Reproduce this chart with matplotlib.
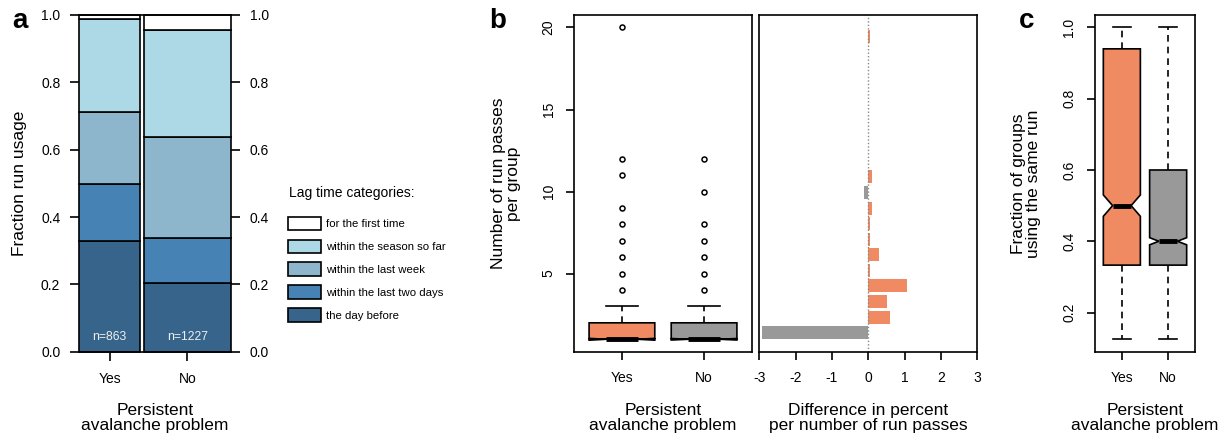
import numpy as np
import matplotlib.pyplot as plt
from matplotlib.patches import Patch

plt.rcParams['font.family'] = ['Liberation Sans', 'DejaVu Sans']
plt.rcParams['axes.unicode_minus'] = False

W, H = 1218, 436

# --- data: panel a (fraction run usage by lag time) ---
groups = ['Yes', 'No']
n_groups = [863, 1227]
lag_cats = ['the day before', 'within the last two days', 'within the last week',
            'within the season so far', 'for the first time']
lag_colors = ['#36648B', '#4682B4', '#8DB6CD', '#ADD8E6', '#FFFFFF']
frac_yes = [0.330, 0.167, 0.216, 0.274, 0.013]
frac_no = [0.205, 0.133, 0.301, 0.316, 0.045]

# --- data: panel b (run passes per group) ---
passes_q1 = [1, 1]
passes_med = [1, 1]
passes_q3 = [2, 2]
passes_whislo = [1, 1]
passes_whishi = [3, 3]
passes_cilo = [0.946, 0.955]
passes_cihi = [1.054, 1.045]
passes_out_yes = [4, 5, 6, 7, 8, 9, 11, 12, 20]
passes_out_no = [4, 5, 6, 7, 8, 10, 12]

run_passes = list(range(1, 21))
diff_pct = [-2.93, 0.60, 0.52, 1.07, 0.055, 0.29, 0.055, 0.055, 0.09, -0.12,
            0.09, 0, 0, 0, 0, 0, 0, 0, 0, 0.04]

# --- data: panel c (fraction of groups using the same run) ---
same_q1 = [0.333, 0.333]
same_med = [0.5, 0.4]
same_q3 = [0.94, 0.6]
same_whislo = [0.125, 0.125]
same_whishi = [1.0, 1.0]
same_cilo = [0.47, 0.39]
same_cihi = [0.53, 0.41]

col_yes = '#EF8A62'
col_no = '#999999'
TICK = 10
LAB = 12.5


def rect(x0, x1, y0, y1):
    return [x0 / W, 1 - y1 / H, (x1 - x0) / W, (y1 - y0) / H]


def frac_x(ax_px, v):
    x0, x1 = ax_px
    return (v - x0) / (x1 - x0)


fig = plt.figure(figsize=(W / 100, H / 100), dpi=100)

Y0, Y1 = 15, 351.7

# ================= a =================
axa = fig.add_axes(rect(79, 231, Y0, Y1))
gap = 0.05 * np.mean(n_groups)
lefts = [0, n_groups[0] + gap]
for gi, fr in enumerate([frac_yes, frac_no]):
    bottom = 0
    for ci, f in enumerate(fr):
        axa.bar(lefts[gi], f, width=n_groups[gi], bottom=bottom, align='edge',
                color=lag_colors[ci], edgecolor='black', lw=1.2, clip_on=False)
        bottom += f
    axa.text(lefts[gi] + n_groups[gi] / 2, 0.045, f'n={n_groups[gi]}', ha='center',
             va='center', color='#EEEEEE', fontsize=8.8)
axa.set_xlim(0, lefts[1] + n_groups[1])
axa.set_ylim(0, 1)
axa.axhline(0, color='black', lw=1.2, clip_on=False)
axa.axhline(1, color='black', lw=1.2, clip_on=False)
for s in axa.spines.values():
    s.set_visible(False)
axa.set_yticks(np.arange(0, 1.01, 0.2))
axa.set_yticklabels([f'{v:.1f}' for v in np.arange(0, 1.01, 0.2)])
axa.set_xticks([lefts[i] + n_groups[i] / 2 for i in range(2)])
axa.set_xticklabels(groups)
axa.tick_params(axis='y', left=True, right=True, labelleft=True, labelright=True,
                length=6.5, width=1.2, pad=7, labelsize=TICK)
axa.tick_params(axis='x', length=6.5, width=1.2, pad=8, labelsize=TICK)
axa.set_ylabel('Fraction run usage', fontsize=LAB, va='center')
axa.yaxis.set_label_coords(frac_x((79, 231), 20), 0.5)
axa.set_xlabel('Persistent\navalanche problem', fontsize=LAB, va='center',
               linespacing=1.05)
axa.xaxis.set_label_coords(0.5, (Y1 - 418) / (Y1 - Y0))

handles = [Patch(facecolor=lag_colors[i], edgecolor='black', lw=1.2, label=lag_cats[i])
           for i in range(len(lag_cats) - 1, -1, -1)]
fig.legend(handles=handles, loc='upper left', bbox_to_anchor=(288.3 / W, 1 - 216.6 / H),
           frameon=False, fontsize=8.2, handlelength=2.9, handleheight=1.46,
           handletextpad=0.44, labelspacing=0.82, borderpad=0, borderaxespad=0)
fig.text(289 / W, 1 - 192.7 / H, 'Lag time categories:', fontsize=10, va='center', ha='left')


def box_stats(q1, med, q3, lo, hi, cilo, cihi, fliers):
    return [dict(q1=q1[i], med=med[i], q3=q3[i], whislo=lo[i], whishi=hi[i],
                 cilo=cilo[i], cihi=cihi[i], fliers=fliers[i]) for i in range(2)]


def draw_box(ax, stats):
    bp = ax.bxp(stats, positions=[1, 2], widths=0.8, patch_artist=True,
                shownotches=True,
                boxprops=dict(edgecolor='black', lw=1.2),
                whiskerprops=dict(color='black', lw=1.2, linestyle=(0, (4, 3))),
                capprops=dict(color='black', lw=1.2),
                medianprops=dict(color='black', lw=3.5, solid_capstyle='butt'),
                flierprops=dict(marker='o', mfc='white', mec='black', ms=3.6, mew=1.1))
    for patch, c in zip(bp['boxes'], [col_yes, col_no]):
        patch.set_facecolor(c)
    ax.set_xlim(0.42, 2.58)
    ax.set_xticks([1, 2])
    ax.set_xticklabels(groups)
    ax.tick_params(axis='x', length=6, width=1.2, pad=8, labelsize=TICK)
    ax.tick_params(axis='y', length=6, width=1.2, pad=7.5, labelsize=TICK,
                   labelrotation=90)
    for s in ax.spines.values():
        s.set_linewidth(1.2)
    for lab in ax.get_yticklabels():
        lab.set_va('center')


# ================= b (boxplot) =================
bpx = (574.3, 751.7)
axb = fig.add_axes(rect(bpx[0], bpx[1], Y0, Y1))
draw_box(axb, box_stats(passes_q1, passes_med, passes_q3, passes_whislo, passes_whishi,
                        passes_cilo, passes_cihi, [passes_out_yes, passes_out_no]))
axb.set_ylim(0.24, 20.76)
axb.set_yticks([5, 10, 15, 20])
axb.set_ylabel('Number of run passes\nper group', fontsize=LAB, va='center',
               linespacing=1.05)
axb.yaxis.set_label_coords(frac_x(bpx, 506), 0.5)
axb.set_xlabel('Persistent\navalanche problem', fontsize=LAB, va='center',
               linespacing=1.05)
axb.xaxis.set_label_coords(0.5, (Y1 - 418) / (Y1 - Y0))

# ================= b (difference bars) =================
dpx = (759.3, 977.3)
axd = fig.add_axes(rect(dpx[0], dpx[1], Y0, Y1))
ypos = [0.7 + 1.2 * i for i in range(len(run_passes))]
axd.barh(ypos, diff_pct, height=1.0, color=[col_yes if v > 0 else col_no for v in diff_pct],
         edgecolor='none')
axd.axvline(0, color='#888888', lw=1, linestyle=(0, (1, 1.5)))
axd.set_xlim(-3, 3)
axd.set_ylim(-0.76, 25.16)
axd.set_yticks([])
axd.set_xticks(range(-3, 4))
axd.tick_params(axis='x', length=6, width=1.2, pad=8, labelsize=TICK)
for s in axd.spines.values():
    s.set_linewidth(1.2)
axd.set_xlabel('Difference in percent\nper number of run passes', fontsize=LAB,
               va='center', linespacing=1.05)
axd.xaxis.set_label_coords(frac_x(dpx, 868), (Y1 - 418) / (Y1 - Y0))

# ================= c =================
cpx = (1095, 1195)
axc = fig.add_axes(rect(cpx[0], cpx[1], Y0, Y1))
draw_box(axc, box_stats(same_q1, same_med, same_q3, same_whislo, same_whishi,
                        same_cilo, same_cihi, [[], []]))
axc.set_ylim(0.09, 1.035)
axc.set_yticks([0.2, 0.4, 0.6, 0.8, 1.0])
axc.set_yticklabels(['0.2', '0.4', '0.6', '0.8', '1.0'])
axc.set_ylabel('Fraction of groups\nusing the same run', fontsize=LAB, va='center',
               linespacing=1.05)
axc.yaxis.set_label_coords(frac_x(cpx, 1026), 0.5)
axc.set_xlabel('Persistent\navalanche problem', fontsize=LAB, va='center',
               linespacing=1.05)
axc.xaxis.set_label_coords(0.5, (Y1 - 418) / (Y1 - Y0))

# panel letters
for letter, x, y in [('a', 12, 28), ('b', 489, 28), ('c', 1019, 28)]:
    fig.text(x / W, 1 - y / H, letter, fontsize=20, fontweight='bold', va='baseline')

fig.savefig('out.png', dpi=100)
